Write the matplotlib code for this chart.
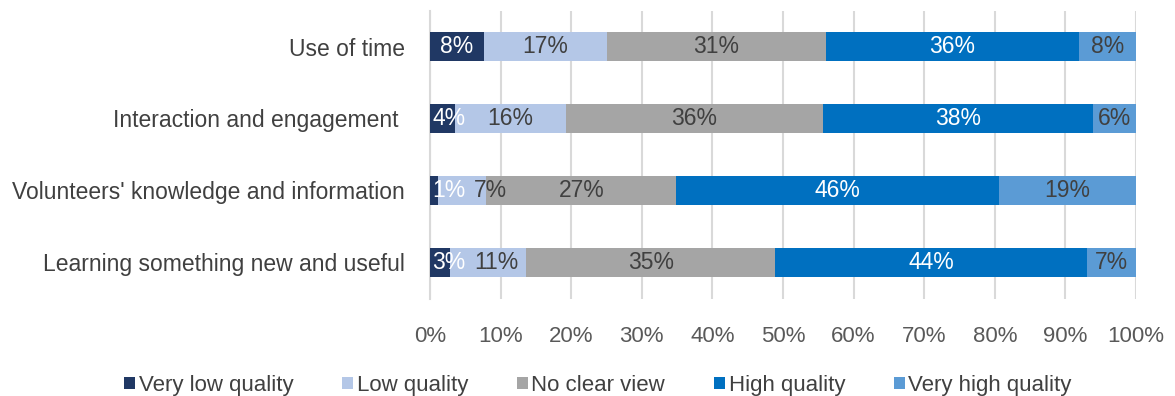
import matplotlib.pyplot as plt
import numpy as np

plt.rcParams['font.family'] = ['Liberation Sans', 'DejaVu Sans']

categories = ["Use of time", "Interaction and engagement ",
              "Volunteers' knowledge and information", "Learning something new and useful"]
series = ["Very low quality", "Low quality", "No clear view", "High quality", "Very high quality"]
very_low = [7.6, 3.5, 1.2, 2.9]
low = [17.4, 15.7, 6.8, 10.7]
no_view = [31.1, 36.5, 26.9, 35.3]
high = [35.8, 38.2, 45.7, 44.2]
very_high = [8.1, 6.1, 19.4, 6.9]
labels = [
    ["8%", "4%", "1%", "3%"],
    ["17%", "16%", "7%", "11%"],
    ["31%", "36%", "27%", "35%"],
    ["36%", "38%", "46%", "44%"],
    ["8%", "6%", "19%", "7%"],
]
colors = ["#203864", "#B4C7E7", "#A5A5A5", "#0070C0", "#5B9BD5"]
text_colors = ["white", "#404040", "#404040", "white", "#404040"]

fig = plt.figure(figsize=(11.75, 3.96), dpi=100)
ax = fig.add_axes([430 / 1175, 1 - 298.5 / 396, 706 / 1175, 288 / 396])
ax.set_xlim(0, 100)
ax.set_ylim(3.5, -0.5)

y = np.arange(len(categories))
left = np.zeros(len(categories))
texts = []
for vals, name, col, tcol, labs in zip([very_low, low, no_view, high, very_high],
                                       series, colors, text_colors, labels):
    vals = np.array(vals)
    ax.barh(y, vals, left=left, height=0.4, color=col, label=name, zorder=3)
    row = []
    for yi, l, v, t in zip(y, left, vals, labs):
        row.append(ax.text(l + v / 2, yi, t, ha='center', va='center', color=tcol,
                           fontsize=16.5, zorder=4))
    texts.append(row)
    left += vals

# push crowded labels to the right, like Excel does
fig.canvas.draw()
r = fig.canvas.get_renderer()
px = 100 / (ax.get_window_extent().width)
for j in range(len(categories)):
    prev_right = 0.3
    for i in range(len(texts)):
        t = texts[i][j]
        w = t.get_window_extent(r).width * px
        x0 = max(t.get_position()[0] - w / 2, prev_right)
        t.set_x(x0 + w / 2)
        prev_right = x0 + w + 9 * px

ax.set_yticks(y)
ax.set_yticklabels(categories, fontsize=16.5, color='#404040')
ax.set_xticks(np.arange(0, 101, 10))
ax.set_xticklabels([f"{v}%" for v in range(0, 101, 10)], fontsize=16, color='#595959')
ax.tick_params(axis='y', length=0, pad=18)
ax.tick_params(axis='x', length=0, pad=20)
ax.xaxis.grid(True, color='#D9D9D9', linewidth=1.5, zorder=0)
for s in ['top', 'right', 'bottom']:
    ax.spines[s].set_visible(False)
ax.spines['left'].set_color('#D9D9D9')
ax.spines['left'].set_linewidth(1.5)

fig.legend(loc='lower center', bbox_to_anchor=(0.509, -0.05), ncol=5, frameon=False,
           fontsize=16, handlelength=0.5, handleheight=0.5, handletextpad=0.15,
           columnspacing=2.2, labelcolor='#404040')

fig.savefig('out.png', dpi=100)
